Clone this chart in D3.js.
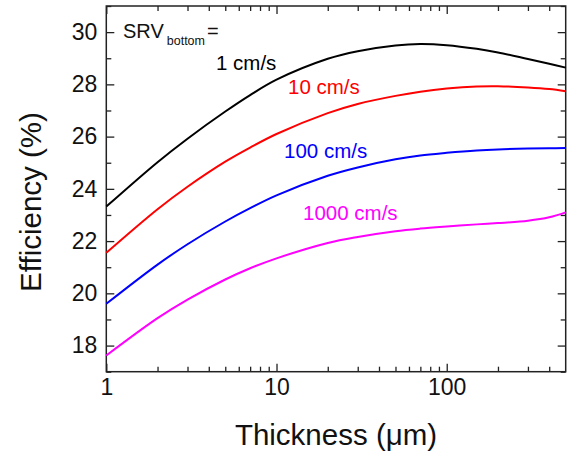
<!DOCTYPE html>
<html>
<head>
<meta charset="utf-8">
<script src="https://cdn.jsdelivr.net/npm/d3@7"></script>
<style>
  html, body { margin: 0; padding: 0; background: #fff; }
  svg { display: block; font-family: "Liberation Sans", Arial, sans-serif; }
</style>
</head>
<body>
<svg id="chart" width="567" height="452"></svg>
<script>
// Data (thickness in µm, efficiency in %)
const thickness = [1, 2, 3, 5, 7, 10, 20, 30, 50, 70, 100, 150, 200, 300, 400, 500];
const srv1    = [23.32, 25.02, 25.92, 26.96, 27.59, 28.18, 28.98, 29.27, 29.49, 29.545, 29.5, 29.36, 29.22, 28.97, 28.79, 28.64];
const srv10   = [21.55, 23.22, 24.08, 25.04, 25.58, 26.1, 26.9, 27.25, 27.56, 27.72, 27.84, 27.92, 27.93, 27.88, 27.82, 27.74];
const srv100  = [19.6, 21.1, 21.88, 22.75, 23.26, 23.75, 24.5, 24.82, 25.13, 25.28, 25.38, 25.47, 25.51, 25.54, 25.55, 25.56];
const srv1000 = [17.62, 19.05, 19.76, 20.53, 20.96, 21.34, 21.93, 22.16, 22.38, 22.48, 22.56, 22.64, 22.69, 22.78, 22.91, 23.1];
const seriesNames = ["1 cm/s", "10 cm/s", "100 cm/s", "1000 cm/s"];
const seriesColors = ["#000000", "#ff0000", "#0000ff", "#ff00ff"];
const xTickLabels = [1, 10, 100];
const yTickLabels = [18, 20, 22, 24, 26, 28, 30];

const seriesValues = [srv1, srv10, srv100, srv1000];
const labelPos = [[216, 69.5], [288, 94], [284, 157.5], [303, 220]];

const svg = d3.select("#chart");
const L = 106.3, R = 565.7, T = 6, B = 371.7;

const x = d3.scaleLog().domain([1, 500]).range([L, R]);
const y = d3.scaleLinear().domain([17, 31]).range([B, T]);

const axisColor = "#222";
const font = "Liberation Sans, Arial, sans-serif";

// minor ticks
const xMinor = [];
for (let d = 1; d <= 100; d *= 10) for (let k = 2; k <= 9; k++) if (d * k < 500) xMinor.push(d * k);
const yMinor = d3.range(17, 31.5, 1).filter(v => v % 2 === 1);

function drawTicks(g, axis) {
  g.call(axis);
  g.select(".domain").remove();
  g.selectAll(".tick line").attr("stroke", axisColor).attr("stroke-width", 1.3);
}

// Bottom
const gb = svg.append("g").attr("transform", `translate(0,${B})`);
drawTicks(gb, d3.axisBottom(x).tickValues(xTickLabels).tickSize(-8).tickPadding(7).tickFormat(d3.format("d")));
gb.selectAll(".tick text").attr("font-size", 23).attr("fill", "#111").attr("font-family", font);
const gbm = svg.append("g").attr("transform", `translate(0,${B})`);
drawTicks(gbm, d3.axisBottom(x).tickValues(xMinor).tickSize(-5).tickFormat(""));
// Top
const gt = svg.append("g").attr("transform", `translate(0,${T})`);
drawTicks(gt, d3.axisTop(x).tickValues(xTickLabels).tickSize(-8).tickFormat(""));
const gtm = svg.append("g").attr("transform", `translate(0,${T})`);
drawTicks(gtm, d3.axisTop(x).tickValues(xMinor).tickSize(-5).tickFormat(""));

// Left
const gl = svg.append("g").attr("transform", `translate(${L},0)`);
drawTicks(gl, d3.axisLeft(y).tickValues(yTickLabels).tickSize(-8).tickPadding(9));
gl.selectAll(".tick text").attr("font-size", 23).attr("fill", "#111").attr("font-family", font);
const glm = svg.append("g").attr("transform", `translate(${L},0)`);
drawTicks(glm, d3.axisLeft(y).tickValues(yMinor).tickSize(-5).tickFormat(""));
// Right
const gr = svg.append("g").attr("transform", `translate(${R},0)`);
drawTicks(gr, d3.axisRight(y).tickValues(yTickLabels).tickSize(-8).tickFormat(""));
const grm = svg.append("g").attr("transform", `translate(${R},0)`);
drawTicks(grm, d3.axisRight(y).tickValues(yMinor).tickSize(-5).tickFormat(""));

// Frame
svg.append("rect").attr("x", L).attr("y", T).attr("width", R - L).attr("height", B - T)
  .attr("fill", "none").attr("stroke", axisColor).attr("stroke-width", 1.5);

// Lines
const line = d3.line().x(d => x(d[0])).y(d => y(d[1])).curve(d3.curveCatmullRom.alpha(0.5));
seriesValues.forEach((vals, i) => {
  svg.append("path")
    .datum(thickness.map((t, j) => [t, vals[j]]))
    .attr("d", line)
    .attr("fill", "none")
    .attr("stroke", seriesColors[i])
    .attr("stroke-width", 2);
});

// Series labels
seriesNames.forEach((n, i) => {
  svg.append("text").attr("x", labelPos[i][0]).attr("y", labelPos[i][1])
    .attr("font-size", 20.5).attr("fill", seriesColors[i]).text(n);
});

// SRV_bottom =
const srv = svg.append("text").attr("x", 123).attr("y", 38).attr("font-size", 20).attr("fill", "#111");
srv.append("tspan").text("SRV");
srv.append("tspan").attr("font-size", 12.5).attr("dy", 7).attr("dx", 3).text("bottom");
srv.append("tspan").attr("dy", -7).attr("dx", 2).text("=");

// Axis titles
svg.append("text").attr("x", 336).attr("y", 445).attr("text-anchor", "middle")
  .attr("font-size", 29.5).attr("fill", "#111").text("Thickness (\u03bcm)");
svg.append("text").attr("transform", "translate(41,202) rotate(-90)").attr("text-anchor", "middle")
  .attr("font-size", 29.5).attr("fill", "#111").text("Efficiency (%)");
</script>
</body>
</html>
